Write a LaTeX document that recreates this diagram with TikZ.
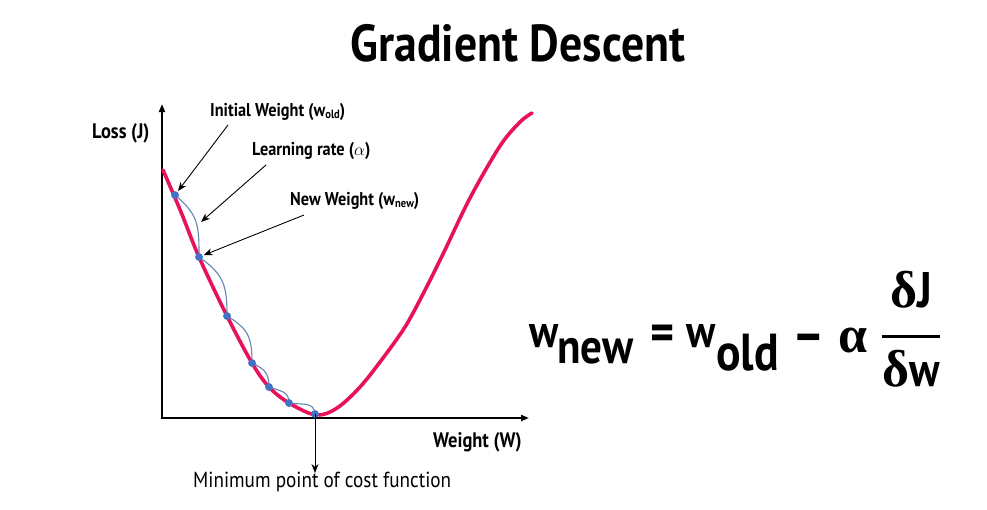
\documentclass[tikz,border=0pt]{standalone}
\usepackage{fontspec}
\usetikzlibrary{arrows.meta}
\newfontfamily\cf{PT Sans}[FakeStretch=0.88]
\newfontfamily\grk{Liberation Serif}
\definecolor{curvered}{RGB}{232,18,92}
\definecolor{dotblue}{RGB}{68,114,196}
\definecolor{stepblue}{RGB}{100,134,178}
\tikzset{
  lbl/.style={anchor=base west,inner sep=0pt,font=\cf\bfseries\fontsize{18.5}{22}\selectfont},
  wpt/.style={circle,fill=dotblue,inner sep=0pt,minimum size=7.5pt},
  stepline/.style={draw=stepblue,line width=1.1pt},
  annot/.style={draw=black,line width=0.9pt,-{Stealth[length=9pt,width=7pt]}},
  axis/.style={draw=black,-{Triangle[length=8pt,width=6pt]}},
  fbig/.style={anchor=base west,inner sep=0pt},
}
\begin{document}
\begin{tikzpicture}[x=1pt,y=1pt]
\useasboundingbox[fill=white] (0,0) rectangle (987,-509);
% title
\node[anchor=base,inner sep=0pt,font=\cf\bfseries\fontsize{52}{60}\selectfont] (title) at (518,-61) {Gradient Descent};
% axes
\coordinate (origin) at (162,-418);
\coordinate (ytip) at (162,-104);
\coordinate (xtip) at (529,-418);
\draw[axis,line width=2.6pt] (162,-419.3) -- (ytip);
\draw[axis,line width=2pt] (origin) -- (xtip);
% loss curve
\draw[curvered,line width=3.6pt,line cap=round] plot[smooth,tension=0.55] coordinates {
 (163,-170) (181,-212) (199,-257) (227,-316) (252,-363) (269,-387) (289,-403) (316,-415)
 (337,-408) (360,-387) (383,-358) (405,-327) (423,-294) (443,-254) (470,-198) (500,-146) (520,-122) (532,-113)};
% weight points
\node[wpt] (p1) at (175,-195) {};
\node[wpt] (p2) at (199,-257) {};
\node[wpt] (p3) at (227,-316) {};
\node[wpt] (p4) at (252,-363) {};
\node[wpt] (p5) at (269,-387) {};
\node[wpt] (p6) at (289,-403) {};
\node[wpt] (p7) at (315,-414) {};
% steps
\draw[stepline] (p1.center) to[out=-40,in=90,looseness=1.2] (p2.center);
\draw[stepline] (p2.center) to[out=-35,in=90,looseness=1.2] (p3.center);
\draw[stepline] (p3.center) to[out=-30,in=90,looseness=1.2] (p4.center);
\draw[stepline] (p4.center) to[out=-25,in=90,looseness=1.2] (p5.center);
\draw[stepline] (p5.center) to[out=-20,in=90,looseness=1.2] (p6.center);
\draw[stepline] (p6.center) to[out=-10,in=95,looseness=1.2] (p7.center);
\node[wpt] at (p1) {};
\node[wpt] at (p2) {};
\node[wpt] at (p3) {};
\node[wpt] at (p4) {};
\node[wpt] at (p5) {};
\node[wpt] at (p6) {};
\node[wpt] at (p7) {};
% labels
\node[lbl] (lold) at (210,-116) {Initial Weight (w\raisebox{-2.5pt}{\fontsize{12}{12}\selectfont old})};
\node[lbl] (lrate) at (252,-155) {Learning rate ($\alpha$)};
\node[lbl] (lnew) at (290,-205) {New Weight (w\raisebox{-2.5pt}{\fontsize{12}{12}\selectfont new})};
\node[lbl,font=\cf\bfseries\fontsize{21}{24}\selectfont] (lloss) at (92,-138) {Loss (J)};
\node[lbl,font=\cf\bfseries\fontsize{21}{24}\selectfont] (lw) at (433,-447) {Weight (W)};
\node[anchor=base west,inner sep=0pt,font=\cf\fontsize{21.8}{26}\selectfont] (lmin) at (193,-487) {Minimum point of cost function};
% annotation arrows
\coordinate (s1) at (228,-125);
\coordinate (s2) at (266,-165);
\coordinate (s3) at (304,-215);
\coordinate (lr) at (201,-222);
\coordinate (mintip) at (315,-473);
\draw[annot,shorten >=1pt] (s1) -- (p1);
\draw[annot] (s2) -- (lr);
\draw[annot,shorten >=1pt] (s3) -- (p2);
\draw[black,line width=0.9pt,-{Stealth[length=9pt,width=7pt]}] (p7.center) -- (mintip);
% formula
\node[fbig,font=\cf\bfseries\fontsize{46}{50}\selectfont] (w1) at (529,-347) {w};
\node[fbig,font=\cf\bfseries\fontsize{49}{53}\selectfont] (new) at (557,-363) {new};
\node[anchor=center,inner sep=0pt,font=\cf\bfseries\fontsize{52}{56}\selectfont] (eq) at (663,-338) {=};
\node[fbig,font=\cf\bfseries\fontsize{46}{50}\selectfont] (w2) at (686,-347) {w};
\node[fbig,font=\cf\bfseries\fontsize{52}{56}\selectfont] (old) at (716,-370) {old};
\node[anchor=base,inner sep=0pt,font=\cf\bfseries\fontsize{56}{60}\selectfont] (minus) at (809,-353) {–};
\node[anchor=base,inner sep=0pt,font=\grk\bfseries\fontsize{52}{56}\selectfont] (alpha) at (853,-352) {α};
\coordinate (barl) at (882,-336);
\coordinate (barr) at (940,-336);
\draw[black,line width=3pt] (barl) -- (barr);
\node[anchor=base,inner sep=0pt] (num) at (911,-307) {{\grk\bfseries\fontsize{52}{56}\selectfont δ}{\cf\bfseries\fontsize{50}{54}\selectfont J}};
\node[anchor=base,inner sep=0pt] (den) at (911,-386) {{\grk\bfseries\fontsize{52}{56}\selectfont δ}{\cf\bfseries\fontsize{48}{52}\selectfont w}};
\end{tikzpicture}
\end{document}
